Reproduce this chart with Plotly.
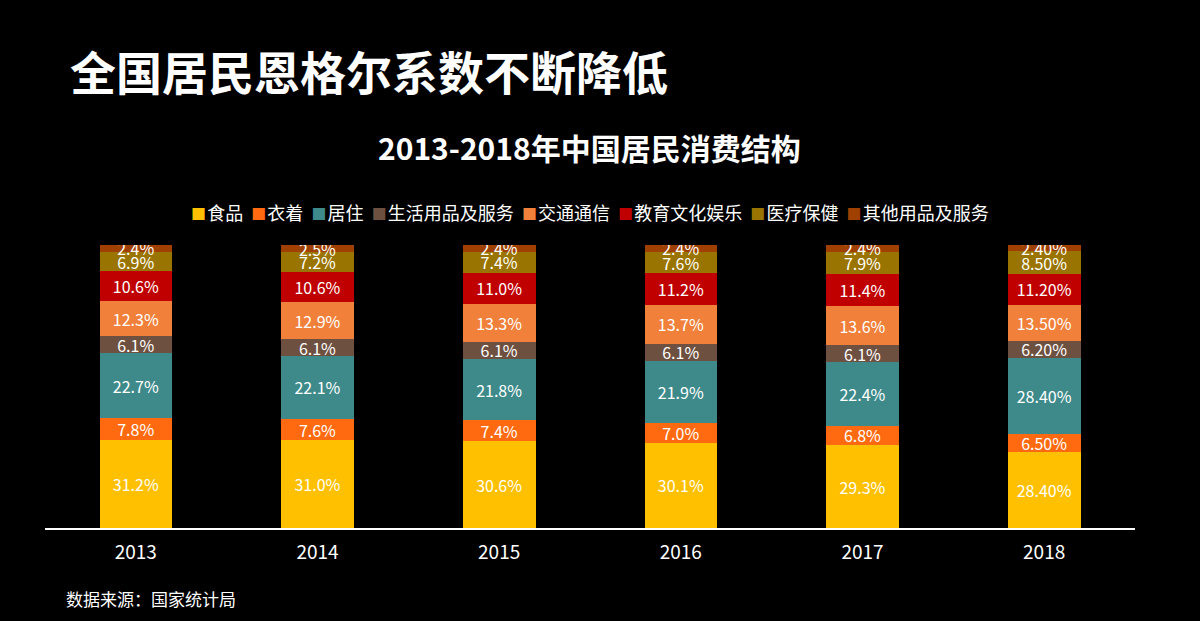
import plotly.graph_objects as go

years = ["2013", "2014", "2015", "2016", "2017", "2018"]
series_names = ["食品", "衣着", "居住", "生活用品及服务", "交通通信", "教育文化娱乐", "医疗保健", "其他用品及服务"]
food = [31.2, 31.0, 30.6, 30.1, 29.3, 28.4]
clothing = [7.8, 7.6, 7.4, 7.0, 6.8, 6.5]
housing = [22.7, 22.1, 21.8, 21.9, 22.4, 28.4]
household = [6.1, 6.1, 6.1, 6.1, 6.1, 6.2]
transport = [12.3, 12.9, 13.3, 13.7, 13.6, 13.5]
education = [10.6, 10.6, 11.0, 11.2, 11.4, 11.2]
medical = [6.9, 7.2, 7.4, 7.6, 7.9, 8.5]
other = [2.4, 2.5, 2.4, 2.4, 2.4, 2.4]
colors = ["#FFC000", "#FF6A10", "#3E8A8A", "#6E5040", "#F0803A", "#C00000", "#9A7400", "#A04000"]

all_vals = [food, clothing, housing, household, transport, education, medical, other]
FONT = "Noto Sans CJK SC"

fig = go.Figure()
for name, vals, col in zip(series_names, all_vals, colors):
    txt = [("{:.2f}%".format(v) if y == "2018" else "{:.1f}%".format(v)) for y, v in zip(years, vals)]
    fig.add_trace(go.Bar(
        x=years, y=vals, name=name, marker_color=col, marker_line_width=0,
        text=txt, texttemplate="%{text}", textposition="inside",
        insidetextanchor="middle", textangle=0,
        textfont=dict(color="white", size=16, family=FONT),
        hoverinfo="x+y+name", showlegend=False,
    ))

plot_top = 245
plot_bot = 528
ph = plot_bot - plot_top
pl, pr = 45, 1135
pw = pr - pl

def py(pix):
    return (plot_bot - pix) / ph

def px(pix):
    return (pix - pl) / pw

legend_html = "&nbsp;&nbsp;".join(
    '<span style="color:{};font-size:15px">■</span><span style="font-size:5px">&nbsp;</span>{}'.format(c, n)
    for n, c in zip(series_names, colors)
)

fig.update_layout(
    barmode="stack", barnorm="percent", bargap=0.6,
    width=1200, height=621,
    paper_bgcolor="black", plot_bgcolor="black",
    margin=dict(l=pl, r=1200 - pr, t=plot_top, b=621 - plot_bot, pad=0),
    font=dict(family=FONT, color="white"),
    uniformtext=dict(minsize=16, mode="show"),
    showlegend=False,
    xaxis=dict(showline=True, linecolor="white", linewidth=2, ticks="",
               tickfont=dict(size=19, color="white"), showgrid=False, zeroline=False,
               range=[-0.5, 5.5], ticklabelstandoff=6),
    yaxis=dict(visible=False, range=[0, 100], showgrid=False, zeroline=False),
    annotations=[
        dict(text="<b>全国居民恩格尔系数不断降低</b>", x=px(68), xref="paper", xanchor="left",
             y=py(70), yref="paper", yanchor="middle", showarrow=False,
             font=dict(size=46, color="white")),
        dict(text="<b>2013-2018年中国居民消费结构</b>", x=px(589), xref="paper", xanchor="center",
             y=py(147), yref="paper", yanchor="middle", showarrow=False,
             font=dict(size=30, color="white")),
        dict(text=legend_html, x=px(590), xref="paper", xanchor="center",
             y=py(212), yref="paper", yanchor="middle", showarrow=False,
             font=dict(size=18, color="white")),
        dict(text="数据来源：国家统计局", x=px(64), xref="paper", xanchor="left",
             y=py(598), yref="paper", yanchor="middle", showarrow=False,
             font=dict(size=17, color="white")),
    ],
)

fig.write_html("out.html", config={"displayModeBar": False},
               post_script="document.body.style.margin='0';document.body.style.background='black';")
